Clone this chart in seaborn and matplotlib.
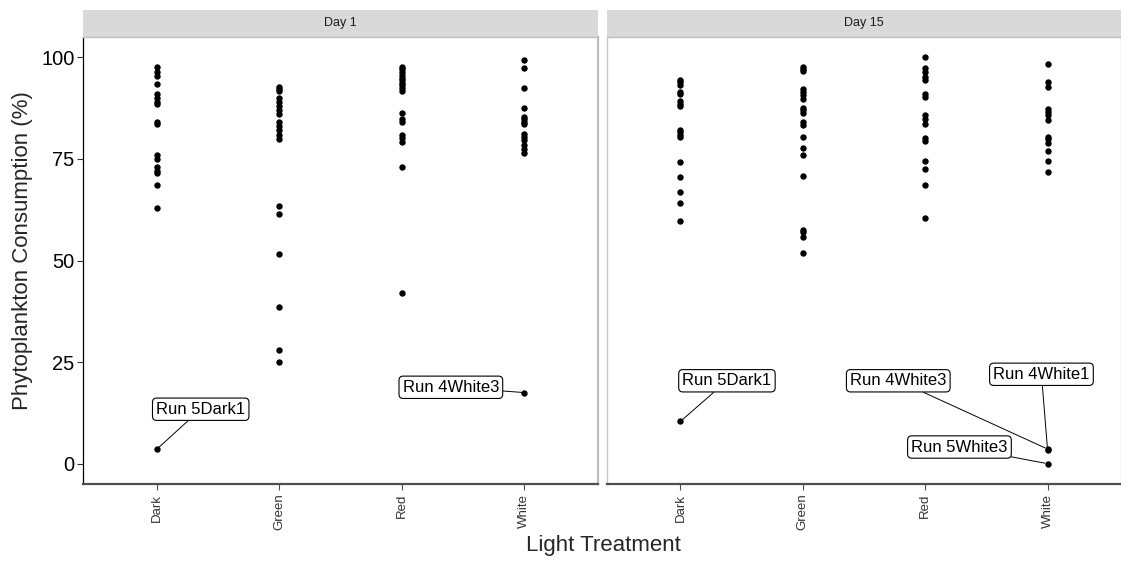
import matplotlib
matplotlib.use("Agg")
import matplotlib.pyplot as plt
import seaborn as sns
import pandas as pd

# Phytoplankton consumption (%) per light treatment, for each sampling day
treatments = ["Dark", "Green", "Red", "White"]
days = ["Day 1", "Day 15"]

day1_dark = [97.5, 96.5, 95.5, 93.5, 91, 90, 89, 88.5, 84, 83.5, 76, 75, 73, 72, 71.5, 68.5, 63, 3.5]
day1_green = [92.8, 92.3, 91.8, 90, 89, 88, 87, 86, 84, 83, 82, 81, 80, 63.5, 61.5, 51.5, 38.5, 28, 25]
day1_red = [97.7, 97.1, 96.5, 95.6, 95, 94.4, 93.8, 93.2, 92.5, 91.7, 86.2, 84.9, 84.1, 81, 80.2, 79.2, 73, 42]
day1_white = [99.3, 97.3, 92.5, 87.6, 85.4, 84.8, 84.1, 83.5, 81.2, 80.4, 79.6, 78.3, 77.5, 76.5, 17.5]

day15_dark = [94.4, 94, 93.3, 91.5, 90.9, 89.2, 88.6, 88.1, 82, 81.5, 80.8, 80.4, 74.2, 70.5, 66.8, 64.1, 59.8, 10.4]
day15_green = [97.6, 97.1, 96.6, 92.2, 91.5, 90.7, 89.7, 87.6, 87, 86.4, 84, 83.3, 80.4, 77.7, 76, 70.7, 57.5, 57, 55.7, 51.9]
day15_red = [100, 97.3, 96.3, 95.2, 94.4, 90.9, 90.3, 85.8, 84.9, 83.7, 80.2, 79.3, 74.4, 72.4, 68.5, 60.4]
day15_white = [98.3, 94, 92.8, 87.2, 86.6, 85.8, 84.5, 80.4, 79.8, 78.8, 76.9, 74.4, 71.9, 3.6, 3.4, 0]

# Outlier runs that get a label
outlier_names = ["Run 5Dark1", "Run 4White3", "Run 5Dark1", "Run 4White3", "Run 4White1", "Run 5White3"]
outlier_days = ["Day 1", "Day 1", "Day 15", "Day 15", "Day 15", "Day 15"]
outlier_treatments = ["Dark", "White", "Dark", "White", "White", "White"]
outlier_values = [3.5, 17.5, 10.4, 3.6, 3.4, 0]

series = {
    ("Day 1", "Dark"): day1_dark, ("Day 1", "Green"): day1_green,
    ("Day 1", "Red"): day1_red, ("Day 1", "White"): day1_white,
    ("Day 15", "Dark"): day15_dark, ("Day 15", "Green"): day15_green,
    ("Day 15", "Red"): day15_red, ("Day 15", "White"): day15_white,
}
rows = []
for (d, t), vals in series.items():
    for v in vals:
        rows.append({"Day": d, "Treatment": t, "Consumption": v})
df = pd.DataFrame(rows)

sns.set_style("ticks")
plt.rcParams["font.family"] = ["Liberation Sans", "DejaVu Sans"]

W, H = 1121, 561
fig = plt.figure(figsize=(W / 100, H / 100), dpi=100)

panel_px = [(83, 598), (607, 1121)]
top_px, bottom_px = 37, 484
strip_top_px = 10

# label text offsets (category units, percent units) per outlier
label_pos = [(0.36, 13.4), (2.40, 18.8), (0.38, 20.4), (1.78, 20.4), (2.95, 22.0), (2.28, 4.1)]

axes = []
for i, d in enumerate(days):
    x0, x1 = panel_px[i]
    ax = fig.add_axes([x0 / W, 1 - bottom_px / H, (x1 - x0) / W, (bottom_px - top_px) / H])
    axes.append(ax)
    sub = df[df["Day"] == d]
    sns.stripplot(data=sub, x="Treatment", y="Consumption", order=treatments,
                  jitter=False, color="black", size=4.6, linewidth=0, ax=ax, zorder=3)
    ax.set_xlim(-0.6, 3.6)
    ax.set_ylim(-5, 105)
    ax.set_yticks([0, 25, 50, 75, 100])
    ax.set_xlabel("")
    ax.set_ylabel("")
    ax.tick_params(axis="x", labelrotation=90, labelsize=9.5, labelcolor="#333333",
                   color="#4d4d4d", length=4, width=0.8, pad=3)
    ax.tick_params(axis="y", labelsize=14.5, labelcolor="black",
                   color="#333333", length=4, width=0.8, pad=2)
    for s in ax.spines.values():
        s.set_visible(True)
    ax.spines["top"].set_visible(False)
    ax.spines["bottom"].set_color("#4d4d4d")
    ax.spines["bottom"].set_linewidth(1.6)
    if i == 0:
        ax.spines["left"].set_color("black")
        ax.spines["left"].set_linewidth(0.9)
        ax.spines["right"].set_color("#bdbdbd")
        ax.spines["right"].set_linewidth(1.6)
    else:
        ax.spines["left"].set_color("#c8c8c8")
        ax.spines["left"].set_linewidth(1.0)
        ax.spines["right"].set_color("#d0d0d0")
        ax.spines["right"].set_linewidth(1.0)
        ax.tick_params(axis="y", left=False, labelleft=False)

    # facet strip
    sax = fig.add_axes([x0 / W, 1 - (top_px - 0.5) / H, (x1 - x0) / W, (top_px - 0.5 - strip_top_px) / H])
    sax.set_facecolor("#d9d9d9")
    sax.set_xticks([])
    sax.set_yticks([])
    for s in sax.spines.values():
        s.set_visible(False)
    sax.spines["bottom"].set_visible(True)
    sax.spines["bottom"].set_color("#bdbdbd")
    sax.spines["bottom"].set_linewidth(1.0)
    sax.text(0.5, 0.5, d, ha="center", va="center", fontsize=9, color="#1a1a1a",
             transform=sax.transAxes)

# labelled outliers
for name, d, t, v, (tx, ty) in zip(outlier_names, outlier_days, outlier_treatments,
                                   outlier_values, label_pos):
    ax = axes[days.index(d)]
    xi = treatments.index(t)
    ax.annotate(name, xy=(xi, v), xytext=(tx, ty), textcoords="data",
                ha="center", va="center", fontsize=12, color="black", zorder=5,
                bbox=dict(boxstyle="round,pad=0.22,rounding_size=0.25", fc="white", ec="black", lw=0.8),
                arrowprops=dict(arrowstyle="-", color="black", lw=0.7, shrinkA=0, shrinkB=2))

fig.text(23 / W, 1 - 251 / H, "Phytoplankton Consumption (%)", rotation=90,
         ha="center", va="center", fontsize=16)
fig.text(603 / W, 1 - 546 / H, "Light Treatment", ha="center", va="center", fontsize=16)

fig.savefig("out.png", dpi=100, facecolor="white")
